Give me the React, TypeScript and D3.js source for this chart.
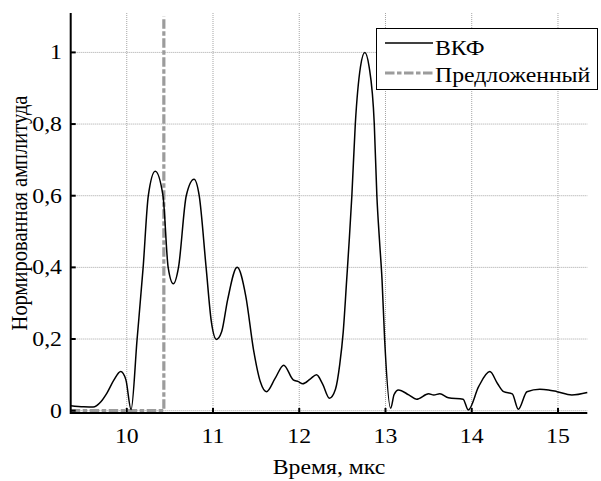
import React from 'react';
import * as d3 from 'd3';

// ВКФ (cross-correlation)
const vkfTime = [
  9.35, 9.5, 9.61, 9.7, 9.77, 9.85, 9.93, 9.99, 10.05, 10.12, 10.19, 10.25, 10.33, 10.42, 10.48,
  10.54, 10.6, 10.69, 10.78, 10.84, 10.92, 10.98, 11.04, 11.1, 11.17, 11.28, 11.38, 11.47, 11.55,
  11.62, 11.72, 11.82, 11.93, 11.99, 12.04, 12.13, 12.2, 12.27, 12.35, 12.42, 12.47, 12.51, 12.55,
  12.58, 12.61, 12.65, 12.71, 12.76, 12.81, 12.87, 12.9, 12.93, 12.96, 12.99, 13.06, 13.1, 13.15,
  13.27, 13.36, 13.5, 13.56, 13.63, 13.73, 13.9, 13.96, 14.08, 14.21, 14.3, 14.37, 14.47, 14.54,
  14.64, 14.79, 14.89, 14.99, 15.16, 15.34,
];
const vkfAmp = [
  0.014, 0.011, 0.01, 0.025, 0.049, 0.085, 0.109, 0.086, 0.003, 0.2, 0.4, 0.6, 0.668, 0.6, 0.4,
  0.354, 0.4, 0.6, 0.646, 0.6, 0.4, 0.25, 0.199, 0.22, 0.31, 0.4, 0.32, 0.17, 0.08,
  0.053, 0.09, 0.127, 0.086, 0.081, 0.075, 0.089, 0.1, 0.075, 0.035, 0.06, 0.13, 0.22, 0.365,
  0.477, 0.6, 0.8, 0.96, 1.0, 0.96, 0.8, 0.6, 0.477, 0.365, 0.2, 0.007, 0.045, 0.058,
  0.044, 0.032, 0.047, 0.044, 0.047, 0.036, 0.032, 0.002, 0.067, 0.109, 0.075, 0.053, 0.047, 0.004,
  0.053, 0.06, 0.058, 0.053, 0.044, 0.051,
];

// Предложенный (step)
const propTime = [9.35, 10.43, 10.43];
const propAmp = [0, 0, 1.1];

const xTicks = [10, 11, 12, 13, 14, 15];
const yTicks = [0, 0.2, 0.4, 0.6, 0.8, 1];
const legendLabels = ['ВКФ', 'Предложенный'];

const W = 601;
const H = 481;
const left = 70.7, right = 587.3, top = 13, bottom = 413;
const font = "'Liberation Serif', 'DejaVu Serif', serif";
const grey = '#9c9c9c';
const dash = '9.5,2.5,4.5,2.5';
const stretch = 1.16; // the picture's text is a bit wider than tall

const App = () => {
  const x = d3.scaleLinear().domain([9.35, 15.34]).range([left, right]);
  const y = d3.scaleLinear().domain([-0.0065, 1.11]).range([bottom, top]);

  const vkfLine = d3.line<number>()
    .x((d, i) => x(vkfTime[i]))
    .y(d => y(d))
    .curve(d3.curveMonotoneX);
  const propLine = d3.line<number>()
    .x((d, i) => x(propTime[i]))
    .y(d => y(d));

  const fmt = (v: number) => (v === 0 || v === 1 ? String(v) : v.toFixed(1).replace('.', ','));
  const txt = { fontFamily: font, fontSize: 20.5 };

  // horizontal text, stretched sideways
  const T = (px: number, py: number, s: string, anchor: string, key?: string) => (
    <text key={key} transform={`translate(${px},${py}) scale(${stretch},1)`} textAnchor={anchor} style={txt}>{s}</text>
  );

  return (
    <svg width={W} height={H} style={{ position: 'absolute', left: 0, top: 0, background: '#fff' }}>
      {/* grid */}
      <g stroke="#a5a5a5" strokeWidth={1} strokeDasharray="1,1">
        {xTicks.map(t => (
          <line key={'gx' + t} x1={x(t)} x2={x(t)} y1={top} y2={bottom} />
        ))}
        {yTicks.map(t => (
          <line key={'gy' + t} x1={left} x2={right} y1={y(t)} y2={y(t)} />
        ))}
      </g>

      {/* series */}
      <path d={propLine(propAmp) || ''} fill="none" stroke={grey} strokeWidth={3.2}
        strokeDasharray={dash} />
      <path d={vkfLine(vkfAmp) || ''} fill="none" stroke="#000" strokeWidth={1.5} />

      {/* axes */}
      <g stroke="#000" strokeWidth={2}>
        <line x1={left} x2={right} y1={bottom} y2={bottom} />
        <line x1={left} x2={left} y1={top} y2={bottom + 1} />
        {xTicks.map(t => (
          <line key={'tx' + t} x1={x(t)} x2={x(t)} y1={bottom} y2={bottom - 5} />
        ))}
        {yTicks.map(t => (
          <line key={'ty' + t} x1={left} x2={left + 5} y1={y(t)} y2={y(t)} />
        ))}
      </g>

      <g fill="#000">
        {xTicks.map(t => T(x(t), 443, String(t), 'middle', 'lx' + t))}
        {yTicks.map(t => T(62, y(t) + 7, fmt(t), 'end', 'ly' + t))}
        {T((left + right) / 2, 474, 'Время, мкс', 'middle')}
        <text transform={`translate(27, ${(top + bottom) / 2}) rotate(-90) scale(1,${stretch})`}
          textAnchor="middle" style={txt}>
          Нормированная амплитуда
        </text>
      </g>

      {/* legend */}
      <g>
        <rect x={376.5} y={28.5} width={221} height={61} fill="#fff" stroke="#000" strokeWidth={1} />
        <line x1={385} x2={433} y1={43} y2={43} stroke="#000" strokeWidth={1.5} />
        <line x1={385} x2={433} y1={73} y2={73} stroke={grey} strokeWidth={3.2} strokeDasharray={dash} />
        {T(435, 55, legendLabels[0], 'start')}
        {T(435, 82, legendLabels[1], 'start')}
      </g>
    </svg>
  );
};

export default App;
